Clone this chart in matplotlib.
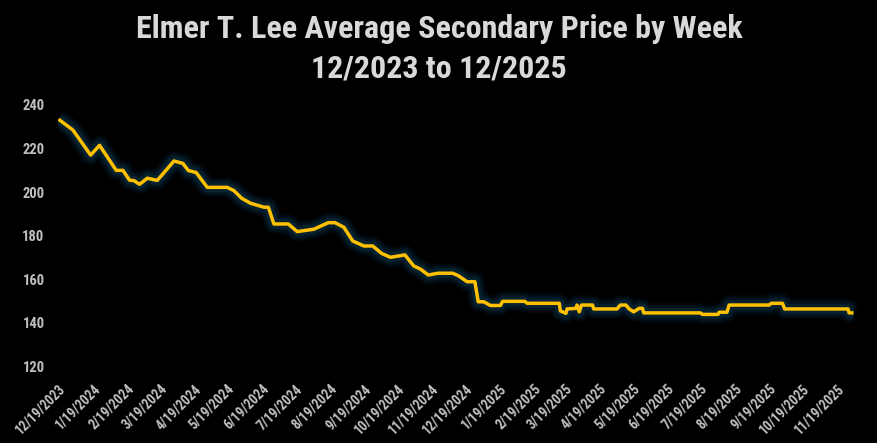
import matplotlib
matplotlib.use('Agg')
import matplotlib.pyplot as plt
import matplotlib.patheffects as pe
import pandas as pd

plt.rcParams['font.family'] = ['Liberation Sans Narrow', 'Roboto Condensed', 'Liberation Sans', 'DejaVu Sans']

# price readings (date of each change, average secondary price)
dates = ['2023-12-19', '2024-01-01', '2024-01-17', '2024-01-25', '2024-02-09', '2024-02-15',
         '2024-02-21', '2024-02-25', '2024-03-01', '2024-03-08', '2024-03-17', '2024-04-01',
         '2024-04-09', '2024-04-14', '2024-04-21', '2024-05-01', '2024-05-19', '2024-05-25',
         '2024-06-01', '2024-06-09', '2024-06-21', '2024-06-25', '2024-06-30', '2024-07-13',
         '2024-07-21', '2024-08-05', '2024-08-18', '2024-08-24', '2024-09-01', '2024-09-09',
         '2024-09-19', '2024-09-27', '2024-10-05', '2024-10-13', '2024-10-26', '2024-11-03',
         '2024-11-09', '2024-11-16', '2024-11-25', '2024-12-08', '2024-12-13', '2024-12-21',
         '2024-12-28', '2024-12-31', '2025-01-05', '2025-01-11', '2025-01-20', '2025-01-22',
         '2025-02-11', '2025-02-13', '2025-03-14', '2025-03-15', '2025-03-20', '2025-03-21',
         '2025-03-29', '2025-03-30', '2025-04-01', '2025-04-03', '2025-04-13', '2025-04-14',
         '2025-05-05', '2025-05-08', '2025-05-13', '2025-05-16', '2025-05-20', '2025-05-25',
         '2025-05-28', '2025-05-29', '2025-07-19', '2025-07-21', '2025-08-04', '2025-08-05',
         '2025-08-12', '2025-08-14', '2025-09-19', '2025-09-21', '2025-10-01', '2025-10-03',
         '2025-11-29', '2025-11-30', '2025-12-04']
prices = [233.5, 228.5, 217.0, 221.5, 210.0, 210.0,
          205.5, 205.3, 203.6, 206.4, 205.4, 214.3,
          213.2, 209.9, 209.0, 202.2, 202.2, 200.7,
          197.2, 194.9, 193.1, 193.1, 185.4, 185.4,
          181.9, 183.0, 186.0, 186.0, 183.9, 177.6,
          175.3, 175.3, 171.9, 170.1, 171.2, 166.1,
          164.7, 162.0, 162.8, 162.8, 161.7, 158.9,
          158.9, 149.7, 149.7, 148.0, 148.0, 149.9,
          149.9, 149.0, 149.0, 145.5, 144.4, 146.4,
          146.7, 148.2, 145.1, 148.2, 148.2, 146.4,
          146.4, 148.2, 148.2, 146.4, 145.1, 146.7,
          146.7, 144.6, 144.6, 143.9, 143.9, 144.9,
          144.9, 148.2, 148.2, 149.0, 149.0, 146.4,
          146.4, 144.6, 144.6]

y_ticks = [120, 140, 160, 180, 200, 220, 240]
x_ticks = pd.date_range('2023-12-01', '2025-11-01', freq='MS') + pd.Timedelta(days=18)
x_labels = [f'{d.month}/{d.day}/{d.year}' for d in x_ticks]

fig = plt.figure(figsize=(8.78, 4.43), dpi=100, facecolor='black')
ax = fig.add_axes([0.0666, 0.1727, 0.9245, 0.5903], facecolor='black')

# soft dark-teal glow around the line
glow = [pe.Stroke(linewidth=14, foreground='#03101a', alpha=0.6),
        pe.Stroke(linewidth=10.5, foreground='#061a26', alpha=0.7),
        pe.Stroke(linewidth=7, foreground='#0a2534', alpha=0.8),
        pe.Normal()]
ax.plot(pd.to_datetime(dates), prices, color='#FFC000', linewidth=2.5,
        solid_joinstyle='round', solid_capstyle='butt', path_effects=glow)

ax.set_xlim(pd.Timestamp('2023-12-19'), pd.Timestamp('2025-12-19'))
ax.set_ylim(120, 240)
ax.set_yticks(y_ticks)
ax.set_xticks(x_ticks)
ax.set_xticklabels(x_labels, rotation=45, ha='right', rotation_mode='anchor')
ax.tick_params(axis='both', length=0, colors='#BFBFBF')
ax.tick_params(axis='y', pad=10, labelsize=10.5)
ax.tick_params(axis='x', pad=11, labelsize=9.8)
for lbl in ax.get_xticklabels() + ax.get_yticklabels():
    lbl.set_fontweight('bold')
for s in ax.spines.values():
    s.set_visible(False)

fig.text(0.5, 0.934, 'Elmer T. Lee Average Secondary Price by Week', ha='center', va='center',
         color='#D9D9D9', fontsize=23, fontweight='bold')
fig.text(0.5, 0.846, '12/2023 to 12/2025', ha='center', va='center',
         color='#D9D9D9', fontsize=23, fontweight='bold')

fig.savefig('out.png', dpi=100, facecolor='black')
